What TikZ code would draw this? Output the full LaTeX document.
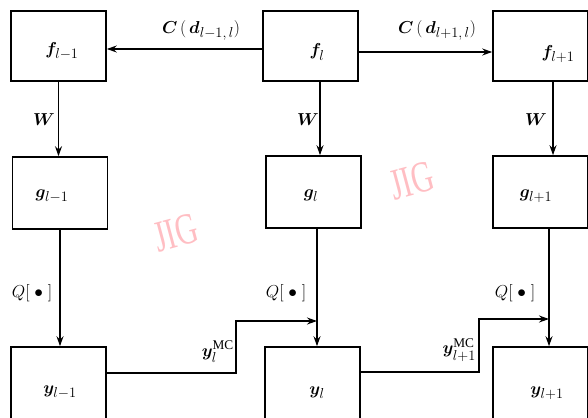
\documentclass[tikz,border=0pt]{standalone}
\usepackage{amsmath,bm}
\usepackage{fontspec}
\setmainfont{Liberation Serif}
\usetikzlibrary{arrows.meta}
\definecolor{wm}{RGB}{255,190,195}
\begin{document}
\begin{tikzpicture}[x=1pt,y=-1pt,
  box/.style={draw,line width=1.6pt,minimum width=95pt,minimum height=70pt,inner sep=0pt},
  tall/.style={box,minimum height=94pt},
  lbl/.style={inner sep=0pt,font=\fontsize{19}{22}\selectfont},
  arr/.style={line width=1.4pt,-{Stealth[length=10pt,width=7pt]}},
  wmark/.style={text=wm,font=\fontsize{34}{36}\selectfont,rotate=15,yscale=1.3,xscale=0.9}]
\useasboundingbox (0,0) rectangle (588,417);
\clip (0,0) rectangle (588,417);
% boxes
\node[box] (fm) at (58.5,46) {};
\node[box] (fl) at (310.5,46) {};
\node[box] (fp) at (540.5,46) {};
\node[box,minimum height=72pt] (gm) at (60,193) {};
\node[box,minimum height=72pt] (gl) at (313.5,192) {};
\node[box,minimum height=72pt] (gp) at (540.5,192) {};
\node[tall] (ym) at (58.5,394) {};
\node[tall] (yl) at (312.5,394) {};
\node[tall] (yp) at (540.5,394) {};
% box texts
\node[lbl] (tfm) at (62,51) {$\bm{f}_{l-1}$};
\node[lbl] (tfl) at (317,52) {$\bm{f}_{l}$};
\node[lbl] (tfp) at (558,54) {$\bm{f}_{l+1}$};
\node[lbl] (tgm) at (52,196) {$\bm{g}_{l-1}$};
\node[lbl] (tgl) at (311,196) {$\bm{g}_{l}$};
\node[lbl] (tgp) at (536,196) {$\bm{g}_{l+1}$};
\node[lbl] (tym) at (60,392) {$\bm{y}_{l-1}$};
\node[lbl] (tyl) at (317,393) {$\bm{y}_{l}$};
\node[lbl] (typ) at (547,393) {$\bm{y}_{l+1}$};
% horizontal arrows
\draw[arr] ([yshift=-3pt]fl.west) -- ([yshift=-3pt]fm.east);
\draw[arr] ([yshift=-6pt]fl.east) -- ([yshift=-6pt]fp.west);
\node[lbl] (cm) at (201,30) {$\bm{C}\,(\,\bm{d}_{l-1,\,l})$};
\node[lbl] (cp) at (437,30) {$\bm{C}\,(\,\bm{d}_{l+1,\,l})$};
% W arrows
\draw[arr] (fm.south) -- (fm.south |- gm.north);
\draw[arr] ([xshift=9.5pt]fl.south) -- ([xshift=9.5pt]fl.south |- gl.north);
\draw[arr] ([xshift=12.5pt]fp.south) -- ([xshift=12.5pt]fp.south |- gp.north);
\node[lbl] (wm1) at (44,120) {$\bm{W}$};
\node[lbl] (wm2) at (308,120) {$\bm{W}$};
\node[lbl] (wm3) at (536,120) {$\bm{W}$};
% Q arrows
\draw[arr] (gm.south) -- (gm.south |- ym.north);
\draw[arr] ([xshift=3.5pt]gl.south) -- ([xshift=3.5pt]gl.south |- yl.north);
\draw[arr] ([xshift=8.5pt]gp.south) -- ([xshift=8.5pt]gp.south |- yp.north);
\node[lbl] (q1) at (32,293) {$Q[\;\bullet\;]$};
\node[lbl] (q2) at (286,293) {$Q[\;\bullet\;]$};
\node[lbl] (q3) at (515,293) {$Q[\;\bullet\;]$};
% MC connectors
\coordinate (c1) at (236,373);
\coordinate (c2) at (236,321);
\coordinate (c3) at (479,372);
\coordinate (c4) at (479,319);
\draw[arr] (ym.east |- c1) -- (c1) -- (c2) -- ([xshift=3.5pt]gl.south |- c2);
\draw[arr] (yl.east |- c3) -- (c3) -- (c4) -- ([xshift=8.5pt]gp.south |- c4);
\node[lbl,anchor=east] (mc1) at (234,352) {$\bm{y}_{l}^{\mathrm{MC}}$};
\node[lbl,anchor=east] (mc2) at (476,350) {$\bm{y}_{l+1}^{\mathrm{MC}}$};
% watermarks
\node[wmark] (w1) at (176,233) {JIG};
\node[wmark] (w2) at (412,181) {JIG};
\end{tikzpicture}
\end{document}
